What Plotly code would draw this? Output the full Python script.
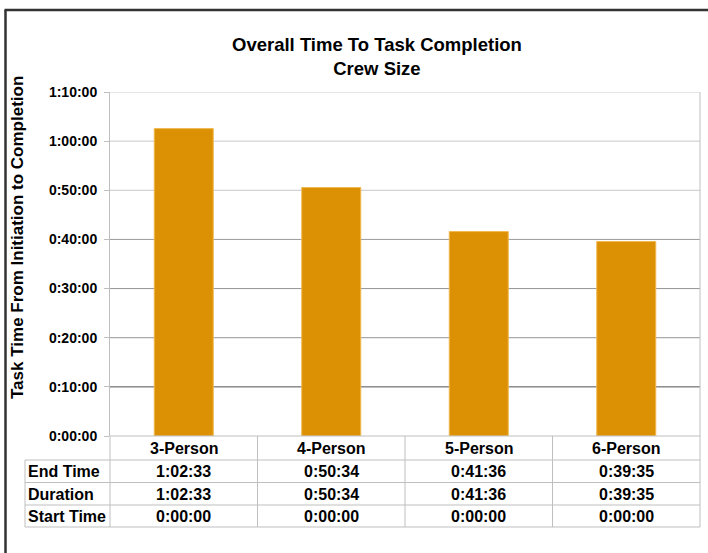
import plotly.graph_objects as go

categories = ["3-Person", "4-Person", "5-Person", "6-Person"]
end_time = ["1:02:33", "0:50:34", "0:41:36", "0:39:35"]
duration = ["1:02:33", "0:50:34", "0:41:36", "0:39:35"]
start_time = ["0:00:00", "0:00:00", "0:00:00", "0:00:00"]
row_labels = ["End Time", "Duration", "Start Time"]
y_ticks_sec = [0, 600, 1200, 1800, 2400, 3000, 3600, 4200]


def to_sec(s):
    h, m, sec = (int(p) for p in s.split(":"))
    return h * 3600 + m * 60 + sec


def fmt(sec):
    return f"{sec // 3600}:{(sec % 3600) // 60:02d}:{sec % 60:02d}"


W, H = 708, 553
L, R, T, B = 110, 700, 92, 436  # plot area in pixels
FONT = "Liberation Sans, Arial, sans-serif"
BAR = "#DC9104"
TBL = "#bfbfbf"
GRID_COLORS = ["#bfbfbf", "#505050", "#959595", "#959595", "#9a9a9a", "#c8c8c8", "#c8c8c8", "#d0d0d0"]


def px(x):
    return (x - L) / (R - L)


def py(y):
    return (B - y) / (B - T)


bar_vals = [to_sec(v) for v in duration]

fig = go.Figure()
fig.add_trace(go.Bar(
    x=categories, y=bar_vals, width=0.4,
    marker=dict(color=BAR, line=dict(color="#F0B850", width=1)),
    hoverinfo="skip",
))

shapes = []
# chart frame (top and left edges visible)
shapes.append(dict(type="line", xref="paper", yref="paper", x0=px(4.5), x1=px(760), y0=py(10), y1=py(10),
                   line=dict(color="#333333", width=2.5)))
shapes.append(dict(type="line", xref="paper", yref="paper", x0=px(5.5), x1=px(5.5), y0=py(10), y1=py(600),
                   line=dict(color="#333333", width=2.5)))
# horizontal gridlines (between grid layer and bars)
for v, col in zip(y_ticks_sec[1:], GRID_COLORS[1:]):
    shapes.append(dict(type="line", xref="paper", yref="y", x0=0, x1=1, y0=v, y1=v, layer="between",
                       line=dict(color=col, width=1)))
# plot right border
shapes.append(dict(type="line", xref="paper", yref="paper", x0=1, x1=1, y0=py(T), y1=py(527),
                   line=dict(color=TBL, width=1)))
# axis baseline
shapes.append(dict(type="line", xref="paper", yref="paper", x0=0, x1=1, y0=0, y1=0,
                   line=dict(color=TBL, width=1)))

# table lines
row_lines = [460, 482.5, 505, 527]
for yl in row_lines:
    shapes.append(dict(type="line", xref="paper", yref="paper", x0=px(25), x1=1, y0=py(yl), y1=py(yl),
                       line=dict(color=TBL, width=1)))
shapes.append(dict(type="line", xref="paper", yref="paper", x0=px(25), x1=px(25), y0=py(460), y1=py(527),
                   line=dict(color=TBL, width=1)))
shapes.append(dict(type="line", xref="paper", yref="paper", x0=0, x1=0, y0=py(436), y1=py(527),
                   line=dict(color=TBL, width=1)))
for i in range(1, len(categories)):
    shapes.append(dict(type="line", xref="x", yref="paper", x0=i - 0.5, x1=i - 0.5, y0=py(436), y1=py(527),
                       line=dict(color=TBL, width=1)))

annotations = []
annotations.append(dict(text="<b>Overall Time To Task Completion<br>Crew Size</b>", xref="paper", yref="paper",
                        x=px(377), y=py(56), xanchor="center", yanchor="middle", showarrow=False,
                        font=dict(family=FONT, size=18.5, color="#000")))
annotations.append(dict(text="<b>Task Time From Initiation to Completion</b>", xref="paper", yref="paper",
                        x=px(17), y=py(238), xanchor="center", yanchor="middle", textangle=-90, showarrow=False,
                        font=dict(family=FONT, size=17, color="#000")))
for c in categories:
    annotations.append(dict(text=f"<b>{c}</b>", xref="x", yref="paper", x=c, y=py(448.5),
                            xanchor="center", yanchor="middle", showarrow=False,
                            font=dict(family=FONT, size=16, color="#000")))
row_centers = [471, 494, 516]
rows = [end_time, duration, start_time]
for lab, yc, vals in zip(row_labels, row_centers, rows):
    annotations.append(dict(text=f"<b>{lab}</b>", xref="paper", yref="paper", x=px(26), y=py(yc),
                            xanchor="left", yanchor="middle", showarrow=False,
                            font=dict(family=FONT, size=16, color="#000")))
    for c, v in zip(categories, vals):
        annotations.append(dict(text=f"<b>{v}</b>", xref="x", yref="paper", x=c, y=py(yc),
                                xanchor="center", yanchor="middle", showarrow=False,
                                font=dict(family=FONT, size=16, color="#000")))

fig.update_layout(
    width=W, height=H,
    margin=dict(l=L, r=W - R, t=T, b=H - B, pad=0),
    paper_bgcolor="white", plot_bgcolor="white",
    showlegend=False,
    shapes=shapes,
    annotations=annotations,
    xaxis=dict(showticklabels=False, showgrid=False, zeroline=False, showline=False, ticks="",
               range=[-0.5, len(categories) - 0.5], fixedrange=True),
    yaxis=dict(range=[0, 4200], tickvals=y_ticks_sec, ticktext=[f"<b>{fmt(v)}</b>" for v in y_ticks_sec],
               showgrid=False, zeroline=False,
               showline=True, linecolor=TBL, linewidth=1, ticks="outside", ticklen=5, tickcolor=TBL,
               tickfont=dict(family=FONT, size=14, color="#000"), ticklabelstandoff=4, fixedrange=True),
)

fig.write_html(
    "out.html",
    config={"displayModeBar": False},
    post_script="document.body.style.margin='0';document.body.style.overflow='hidden';",
)
